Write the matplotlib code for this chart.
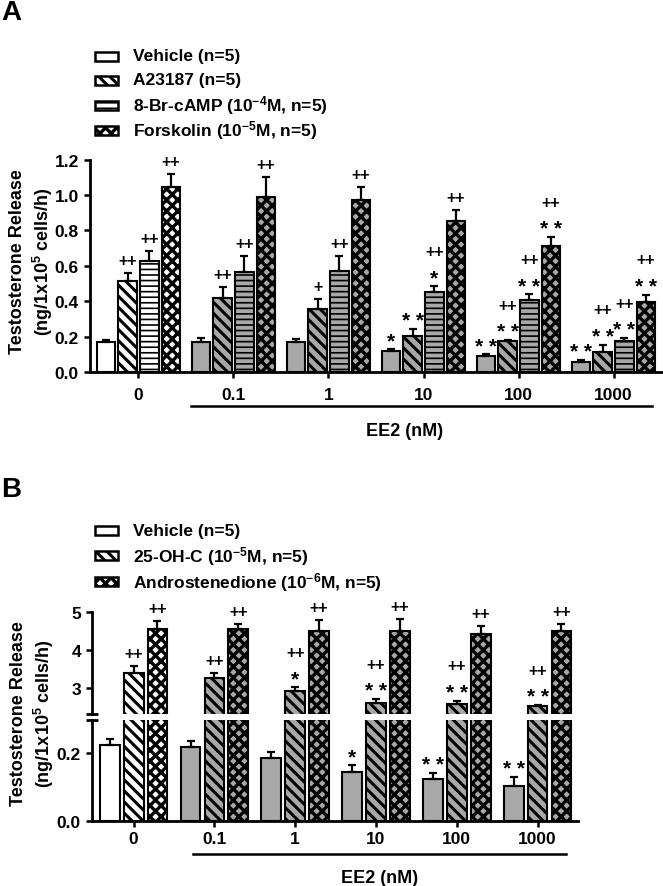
import numpy as np
import matplotlib
matplotlib.use("Agg")
import matplotlib.pyplot as plt
from matplotlib.patches import Rectangle

plt.rcParams['font.family'] = ['Liberation Sans', 'DejaVu Sans']
plt.rcParams['font.weight'] = 'bold'
plt.rcParams['mathtext.fontset'] = 'custom'
plt.rcParams['mathtext.rm'] = 'Liberation Sans:bold'
plt.rcParams['mathtext.bf'] = 'Liberation Sans:bold'
plt.rcParams['mathtext.default'] = 'regular'
plt.rcParams['hatch.linewidth'] = 1.6

W, H = 663, 887
GRAY = '#a8a8a8'

DOSES = ["0", "0.1", "1", "10", "100", "1000"]

# ---- panel A data
A_LABELS = ["Vehicle (n=5)", "A23187 (n=5)",
            "8-Br-cAMP (10$^{-4}$M, n=5)", "Forskolin (10$^{-5}$M, n=5)"]
A_HATCH = ['', '\\\\\\', '---', 'xxx']
A_HATCH_LW = [1.0, 2.2, 1.2, 2.4]
A_MEANS = [[0.170, 0.170, 0.170, 0.121, 0.089, 0.055],
           [0.513, 0.419, 0.354, 0.203, 0.174, 0.112],
           [0.627, 0.566, 0.573, 0.453, 0.409, 0.176],
           [1.047, 0.987, 0.975, 0.852, 0.714, 0.398]]
A_ERRS = [[0.010, 0.020, 0.015, 0.010, 0.010, 0.015],
          [0.045, 0.060, 0.060, 0.040, 0.008, 0.043],
          [0.055, 0.090, 0.080, 0.034, 0.030, 0.015],
          [0.070, 0.117, 0.072, 0.065, 0.050, 0.040]]
A_STARS = [["", "", "", "*", "**", "**"],
           ["", "", "", "**", "**", "**"],
           ["", "", "", "*", "**", "**"],
           ["", "", "", "", "**", "**"]]
A_PLUS = [["", "", "", "", "", ""],
          ["++", "++", "+", "", "++", "++"],
          ["++", "++", "++", "++", "++", "++"],
          ["++", "++", "++", "++", "++", "++"]]

# ---- panel B data
B_LABELS = ["Vehicle (n=5)", "25-OH-C (10$^{-5}$M, n=5)",
            "Androstenedione (10$^{-6}$M, n=5)"]
B_HATCH = ['', '\\\\\\', 'xxx']
B_HATCH_LW = [1.0, 2.2, 2.4]
B_MEANS = [[0.225, 0.220, 0.185, 0.145, 0.124, 0.102],
           [3.39, 3.28, 2.92, 2.61, 2.59, 2.52],
           [4.56, 4.55, 4.52, 4.52, 4.43, 4.50]]
B_ERRS = [[0.017, 0.016, 0.018, 0.020, 0.018, 0.029],
          [0.19, 0.12, 0.10, 0.11, 0.08, 0.04],
          [0.21, 0.15, 0.28, 0.31, 0.20, 0.18]]
B_STARS = [["", "", "", "*", "**", "**"],
           ["", "", "*", "**", "**", "**"],
           ["", "", "", "", "", ""]]
B_PLUS = [["", "", "", "", "", ""],
          ["++", "++", "++", "++", "++", "++"],
          ["++", "++", "++", "++", "++", "++"]]


def fx(px):
    return px / W


def fy(py):
    return 1 - py / H


def style_axis(ax):
    for s in ['top', 'right']:
        ax.spines[s].set_visible(False)
    for s in ['left', 'bottom']:
        ax.spines[s].set_linewidth(2.0)
    ax.tick_params(direction='out', length=4.5, width=1.8, labelsize=12.5)


def draw_bars(ax, means, errs, hatches, hatch_lw, spacing, width):
    groups = np.arange(len(DOSES))
    n = len(means)
    colors = ['white'] + [GRAY] * (len(DOSES) - 1)
    for i in range(n):
        x = groups + (i - (n - 1) / 2) * spacing
        with plt.rc_context({'hatch.linewidth': hatch_lw[i]}):
            bars = ax.bar(x, means[i], width, color=colors, edgecolor='black',
                          linewidth=1.5, hatch=hatches[i], zorder=2)
            for b in bars:
                if hasattr(b, 'set_hatch_linewidth'):
                    b.set_hatch_linewidth(hatch_lw[i])
        ax.errorbar(x, means[i], yerr=[np.zeros(len(x)), errs[i]], fmt='none',
                    ecolor='black', elinewidth=1.6, capsize=3, capthick=1.6,
                    zorder=3)


def annotate(ax_for, means, errs, stars, plus, spacing):
    n = len(means)
    for i in range(n):
        for g in range(len(DOSES)):
            x = g + (i - (n - 1) / 2) * spacing
            top = means[i][g] + errs[i][g]
            ax = ax_for(top)
            off = 6
            if stars[i][g]:
                ax.annotate(" ".join(stars[i][g]), (x, top), xytext=(0, off),
                            textcoords='offset points', ha='center',
                            va='center', fontsize=15, fontweight='bold',
                            annotation_clip=False)
                off += 16
            if plus[i][g]:
                ax.annotate(plus[i][g], (x, top), xytext=(0, off + 3),
                            textcoords='offset points', ha='center',
                            va='center', fontsize=11.5, annotation_clip=False)


def legend(fig, labels, hatches, hatch_lw, rows):
    for lab, h, lw, yy in zip(labels, hatches, hatch_lw, rows):
        with plt.rc_context({'hatch.linewidth': lw}):
            r = Rectangle((fx(95), fy(yy + 4.5)), fx(23), 9 / H,
                          transform=fig.transFigure, facecolor='white',
                          edgecolor='black', linewidth=1.8, hatch=h)
            if hasattr(r, 'set_hatch_linewidth'):
                r.set_hatch_linewidth(lw)
            fig.add_artist(r)
        fig.text(fx(133), fy(yy), lab, fontsize=12.5, va='center', ha='left')


fig = plt.figure(figsize=(W / 100, H / 100), dpi=100)

# ================= Panel A =================
axA = fig.add_axes([fx(90), fy(373), fx(662 - 90), (373 - 160.7) / H])
style_axis(axA)
spA = 0.228
draw_bars(axA, A_MEANS, A_ERRS, A_HATCH, A_HATCH_LW, spA, 0.195)
axA.set_xlim(-0.51, 5.51)
axA.set_ylim(0, 1.2)
axA.set_yticks(np.arange(0, 1.21, 0.2))
axA.set_yticklabels([f"{v:.1f}" for v in np.arange(0, 1.21, 0.2)])
axA.set_xticks(range(len(DOSES)))
axA.set_xticklabels(DOSES)
axA.tick_params(axis='x', pad=6)
annotate(lambda t: axA, A_MEANS, A_ERRS, A_STARS, A_PLUS, spA)

tr = axA.get_xaxis_transform()
axA.plot([0.55, 5.4], [-34 / 212.3] * 2, color='black', lw=1.8,
         transform=tr, clip_on=False)
axA.text(2.8, -58 / 212.3, "EE2 (nM)", transform=tr, ha='center',
         va='center', fontsize=13)

fig.text(fx(32), fy(262), "Testosterone Release\n(ng/1x10$^{5}$ cells/h)",
         rotation=90, ha='center', va='center', fontsize=13, linespacing=1.3)
fig.text(fx(1), fy(13), "A", fontsize=20, fontweight='bold', va='center',
         ha='left')
legend(fig, A_LABELS, A_HATCH, A_HATCH_LW, [57, 81, 106, 131])

# ================= Panel B =================
bl, bw = fx(92), fx(578 - 92)
axBl = fig.add_axes([bl, fy(821.7), bw, (821.7 - 720.8) / H])
axBu = fig.add_axes([bl, fy(715), bw, (715 - 613.3) / H])
style_axis(axBl)
style_axis(axBu)
axBu.spines['bottom'].set_visible(False)
axBu.tick_params(axis='x', bottom=False, labelbottom=False)

spB = 0.295
for ax in (axBl, axBu):
    draw_bars(ax, B_MEANS, B_ERRS, B_HATCH, B_HATCH_LW, spB, 0.245)
    ax.set_xlim(-0.515, 5.5)
axBl.set_ylim(0, 0.3)
axBl.set_yticks([0.0, 0.2])
axBl.set_yticklabels(["0.0", "0.2"])
axBu.set_ylim(2.32, 5)
axBu.set_yticks([3, 4, 5])
axBl.set_xticks(range(len(DOSES)))
axBl.set_xticklabels(DOSES)
axBl.tick_params(axis='x', pad=3)

# break caps on the split y axis
axBu.plot([0], [0], marker='_', markersize=9, mew=2, color='black',
          transform=axBu.transAxes, clip_on=False)
axBl.plot([0], [1], marker='_', markersize=9, mew=2, color='black',
          transform=axBl.transAxes, clip_on=False)

annotate(lambda t: axBu if t > 0.3 else axBl, B_MEANS, B_ERRS,
         B_STARS, B_PLUS, spB)

trB = axBl.get_xaxis_transform()
hB = 821.7 - 720.8
axBl.plot([0.735, 5.35], [-33.5 / hB] * 2, color='black', lw=1.8,
          transform=trB, clip_on=False)
axBl.text(3.04, -56.5 / hB, "EE2 (nM)", transform=trB, ha='center',
          va='center', fontsize=13)

fig.text(fx(33), fy(714), "Testosterone Release\n(ng/1x10$^{5}$ cells/h)",
         rotation=90, ha='center', va='center', fontsize=13, linespacing=1.3)
fig.text(fx(1), fy(490), "B", fontsize=20, fontweight='bold', va='center',
         ha='left')
legend(fig, B_LABELS, B_HATCH, B_HATCH_LW, [531.7, 556.7, 582.7])

fig.savefig("out.png", dpi=100)
